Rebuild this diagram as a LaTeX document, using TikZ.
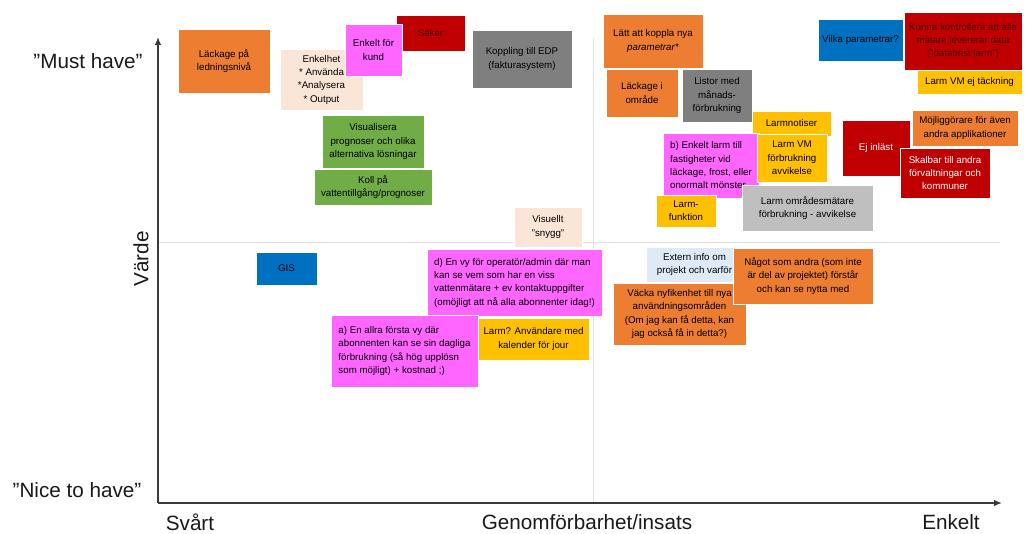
\documentclass[tikz,border=0pt]{standalone}
\usepackage{fontspec}
\setmainfont{Liberation Sans}
\usetikzlibrary{arrows.meta}

\definecolor{noteorange}{HTML}{ED7D31}
\definecolor{notepeach}{HTML}{FBE5D6}
\definecolor{notepink}{HTML}{FF66FF}
\definecolor{notered}{HTML}{C00000}
\definecolor{notegray}{HTML}{7F7F7F}
\definecolor{notegreen}{HTML}{70AD47}
\definecolor{noteblue}{HTML}{0070C0}
\definecolor{noteyellow}{HTML}{FFC000}
\definecolor{notesilver}{HTML}{BFBFBF}
\definecolor{noteice}{HTML}{DEEBF7}
\definecolor{maroontext}{HTML}{4A0000}
\definecolor{axisgray}{HTML}{3A3A3A}
\definecolor{gridgray}{HTML}{E2E2E2}

% sticky note given by its corners (in pixel units): name, style, x1, y1, x2, y2, text
\newcommand{\stickynote}[7]{%
  \pgfmathsetmacro{\sncx}{(#3+#5)/2}%
  \pgfmathsetmacro{\sncy}{(#4+#6)/2}%
  \pgfmathsetmacro{\snw}{(#5-#3)*0.75}%
  \pgfmathsetmacro{\snh}{(#6-#4)*0.75}%
  \node[note,#2,minimum width=\snw pt,minimum height=\snh pt] (#1) at (\sncx,\sncy) {#7};%
}

\tikzset{
  note/.style={draw=white, line width=0.5pt, inner sep=0pt, align=center,
    font=\fontsize{7.3}{10}\selectfont, text=black},
  leftnote/.style={align=left},
  orangenote/.style={fill=noteorange},
  peachnote/.style={fill=notepeach},
  pinknote/.style={fill=notepink},
  rednote/.style={fill=notered, text=maroontext},
  graynote/.style={fill=notegray},
  greennote/.style={fill=notegreen},
  bluenote/.style={fill=noteblue},
  yellownote/.style={fill=noteyellow},
  silvernote/.style={fill=notesilver},
  icenote/.style={fill=noteice},
  axisline/.style={draw=axisgray, line width=1.1pt, -{Latex[length=6pt,width=5pt]}},
  midline/.style={draw=gridgray, line width=0.6pt},
  axislabel/.style={font=\fontsize{15.5}{18}\selectfont, text=black!90, inner sep=0pt}
}

\begin{document}
\begin{tikzpicture}[x=0.75pt, y=-0.75pt]
\useasboundingbox (0,0) rectangle (1026,534);

% quadrant guide lines
\coordinate (hmidL) at (158,242);
\coordinate (hmidR) at (1000,242);
\coordinate (vmidT) at (593,38);
\coordinate (vmidB) at (593,503);
\draw[midline] (hmidL) -- (hmidR);
\draw[midline] (vmidT) -- (vmidB);

% axes
\coordinate (origin) at (158,503);
\coordinate (ytip) at (158,37);
\coordinate (xtip) at (1002,503);
\draw[axisline] (origin) -- (ytip);
\draw[axisline] (origin) -- (xtip);

% axis labels
\node[axislabel] (musthave) at (88,61) {”Must have”};
\node[axislabel] (nicetohave) at (77,490) {”Nice to have”};
\node[axislabel, rotate=90] (varde) at (141,259) {Värde};
\node[axislabel] (svart) at (190,522) {Svårt};
\node[axislabel] (genom) at (587,522) {Genomförbarhet/insats};
\node[axislabel] (enkelt) at (951,522) {Enkelt};

% upper left quadrant
\stickynote{lackage}{orangenote}{178}{29}{270}{93}{Läckage på\\ledningsnivå}
\stickynote{enkelhet}{peachnote}{280}{49}{363}{110}{Enkelhet\\* Använda\\*Analysera\\* Output}
\stickynote{saker}{rednote}{396}{15}{465}{51}{Säker}
\stickynote{enkeltkund}{pinknote}{345}{24}{402}{76}{Enkelt för\\kund}
\stickynote{edp}{graynote}{472}{30}{572}{88}{Koppling till EDP\\(fakturasystem)}
\stickynote{visualisera}{greennote}{322}{115}{424}{168}{Visualisera\\prognoser och olika\\alternativa lösningar}
\stickynote{koll}{greennote}{314}{169}{432}{205}{Koll på\\vattentillgång/prognoser}
\stickynote{visuellt}{peachnote}{514}{207}{582}{247}{Visuellt\\”snygg”}

% upper right quadrant
\stickynote{lattkoppla}{orangenote}{603}{14}{703}{68}{Lätt att koppla nya\\\textit{parametrar*}}
\stickynote{lackageomr}{orangenote}{606}{69}{678}{117}{Läckage i\\område}
\stickynote{listor}{graynote}{682}{69}{752}{122}{Listor med\\månads-\\förbrukning}
\stickynote{vilka}{bluenote}{818}{19}{903}{61}{Vilka parametrar?}
\stickynote{kunna}{rednote}{904}{12}{1022}{70}{Kunna kontrollera att alla\\mätare levererar data\\(”databrist larm”)}
\stickynote{larmvmej}{yellownote}{917}{70}{1022}{94}{Larm VM ej täckning}
\stickynote{mojlig}{orangenote}{912}{110}{1018}{146}{Möjliggörare för även\\andra applikationer}
\stickynote{ejinlast}{rednote, text=white}{842}{120}{910}{176}{Ej inläst}
\stickynote{skalbar}{rednote, text=white}{900}{148}{990}{198}{Skalbar till andra\\förvaltningar och\\kommuner}
\stickynote{larmnotiser}{yellownote}{752}{111}{831}{136}{Larmnotiser}
\stickynote{enkeltlarm}{pinknote, leftnote}{663}{133}{759}{198}{b) Enkelt larm till\\fastigheter vid\\läckage, frost, eller\\onormalt mönster}
\stickynote{larmvm}{yellownote}{757}{134}{827}{182}{Larm VM\\förbrukning\\avvikelse}
\stickynote{larmfunktion}{yellownote}{656}{195}{716}{227}{Larm-\\funktion}
\stickynote{larmomr}{silvernote}{742}{185}{873}{231}{Larm områdesmätare\\förbrukning - avvikelse}

% lower half
\stickynote{gis}{bluenote}{256}{252}{317}{285}{GIS}
\stickynote{vyoperator}{pinknote, leftnote}{427}{249}{602}{316}{d) En vy för operatör/admin där man\\kan se vem som har en viss\\vattenmätare + ev kontaktuppgifter\\(omöjligt att nå alla abonnenter idag!)}
\stickynote{vyabonnent}{pinknote, leftnote}{331}{315}{478}{387}{a) En allra första vy där\\abonnenten kan se sin dagliga\\förbrukning (så hög upplösn\\som möjligt) + kostnad ;)}
\stickynote{larmkalender}{yellownote}{478}{318}{589}{360}{Larm? Användare med\\kalender för jour}
\stickynote{extern}{icenote}{646}{247}{743}{282}{Extern info om\\projekt och varför}
\stickynote{vacka}{orangenote}{613}{283}{746}{345}{Väcka nyfikenhet till nya\\användningsområden\\(Om jag kan få detta, kan\\jag också få in detta?)}
\stickynote{nagot}{orangenote}{733}{248}{873}{304}{Något som andra (som inte\\är del av projektet) förstår\\och kan se nytta med}
\end{tikzpicture}
\end{document}
